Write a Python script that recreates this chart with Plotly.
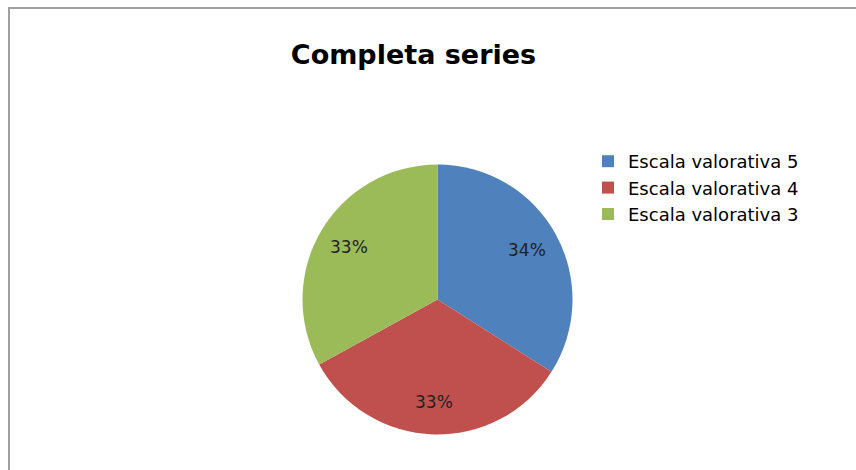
import math
import plotly.graph_objects as go

categories = ["Escala valorativa 5", "Escala valorativa 4", "Escala valorativa 3"]
values = [34, 33, 33]
colors = ["#4F81BD", "#C0504D", "#9BBB59"]
title_text = "Completa series"

W, H = 856, 470
CX, CY, R = 437.5, 299.5, 135.0   # pie centre / radius in pixels
LABEL_R = 0.76                    # label distance as fraction of radius

fig = go.Figure(go.Pie(
    labels=categories,
    values=values,
    sort=False,
    direction="clockwise",
    rotation=0,
    marker=dict(colors=colors, line=dict(width=0)),
    textinfo="none",
    hoverinfo="label+percent",
    domain=dict(x=[(CX - R) / W, (CX + R) / W], y=[1 - (CY + R) / H, 1 - (CY - R) / H]),
))

# percentage labels placed along each slice's bisector (like Excel's data labels)
total = sum(values)
annotations = []
cum = 0.0
for v in values:
    mid = (cum + v / 2) / total * 2 * math.pi
    cum += v
    px = CX + LABEL_R * R * math.sin(mid)
    py = CY - LABEL_R * R * math.cos(mid)
    annotations.append(dict(
        x=px / W, y=1 - py / H, xref="paper", yref="paper",
        text=f"{round(v / total * 100)}%", showarrow=False,
        xanchor="center", yanchor="middle",
        font=dict(family="DejaVu Sans", size=17, color="#222222"),
    ))

fig.update_layout(
    width=W, height=H,
    margin=dict(l=0, r=0, t=0, b=0),
    paper_bgcolor="white",
    plot_bgcolor="white",
    title=dict(text="<b>" + title_text + "</b>", x=413.5 / W, xanchor="center",
               y=1 - 55 / H, yanchor="middle",
               font=dict(family="DejaVu Sans", size=27, color="#000000")),
    legend=dict(x=588 / W, xanchor="left", y=1 - 143 / H, yanchor="top",
                font=dict(family="DejaVu Sans", size=18, color="#000000"),
                bgcolor="rgba(0,0,0,0)"),
    annotations=annotations,
    shapes=[dict(type="rect", xref="paper", yref="paper",
                 x0=9 / W, y0=-0.05, x1=1.05, y1=1 - 8 / H,
                 line=dict(color="#A0A0A0", width=2), fillcolor="rgba(0,0,0,0)")],
)

fig.write_html("out.html")
